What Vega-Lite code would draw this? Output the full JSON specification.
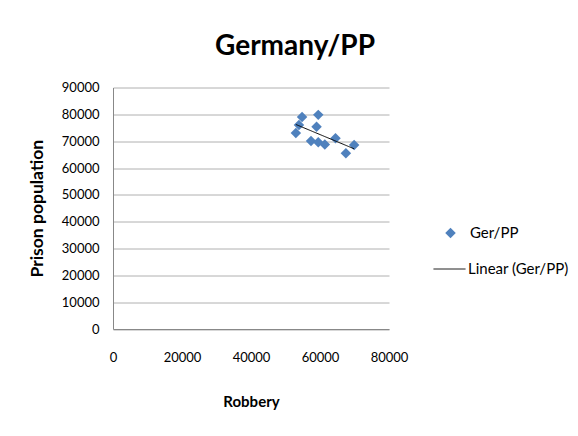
{
  "$schema": "https://vega.github.io/schema/vega-lite/v6.json",
  "width": 276,
  "height": 241.5,
  "autosize": "none",
  "padding": {"left": 113, "top": 87.5, "right": 189, "bottom": 107},
  "background": "white",
  "title": {
    "text": "Germany/PP",
    "font": "Lato",
    "fontSize": 28,
    "fontWeight": "bold",
    "color": "#000000",
    "anchor": "middle",
    "dx": 44,
    "baseline": "alphabetic",
    "offset": -1
  },
  "data": {
    "values": [
      {"robbery": 53000, "pp": 73000},
      {"robbery": 53900, "pp": 76000},
      {"robbery": 54800, "pp": 79000},
      {"robbery": 57400, "pp": 70100},
      {"robbery": 59000, "pp": 75400},
      {"robbery": 59500, "pp": 79800},
      {"robbery": 59500, "pp": 69600},
      {"robbery": 61400, "pp": 68800},
      {"robbery": 64500, "pp": 71100},
      {"robbery": 67500, "pp": 65500},
      {"robbery": 69900, "pp": 68600}
    ]
  },
  "encoding": {
    "x": {
      "field": "robbery", "type": "quantitative", "title": "Robbery",
      "scale": {"domain": [0, 80000], "nice": false, "zero": true},
      "axis": {"values": [0, 20000, 40000, 60000, 80000], "grid": false, "ticks": false,
               "labelPadding": 22, "titlePadding": 30, "format": "d",
               "labelFlush": false, "labelOverlap": false, "titleFontSize": 15}
    },
    "y": {
      "field": "pp", "type": "quantitative", "title": "Prison population",
      "scale": {"domain": [0, 90000], "nice": false},
      "axis": {"values": [0, 10000, 20000, 30000, 40000, 50000, 60000, 70000, 80000, 90000],
               "grid": true, "ticks": false, "labelPadding": 14, "titlePadding": 15,
               "format": "d", "labelOverlap": false, "titleFontSize": 17.5}
    }
  },
  "layer": [
    {
      "mark": {"type": "point", "shape": "diamond", "filled": true, "size": 110, "opacity": 1},
      "encoding": {
        "color": {
          "datum": "Ger/PP",
          "scale": {"domain": ["Ger/PP"], "range": ["#4F81BD"]},
          "legend": {
            "title": null, "orient": "none", "legendX": 330, "legendY": 138,
            "symbolType": "diamond", "symbolSize": 110, "labelOffset": 12, "padding": 0
          }
        }
      }
    },
    {
      "transform": [{"regression": "pp", "on": "robbery"}],
      "mark": {"type": "line", "color": "#000000", "strokeWidth": 1},
      "encoding": {
        "strokeDash": {
          "datum": "Linear (Ger/PP)",
          "scale": {"domain": ["Linear (Ger/PP)"], "range": [[1, 0]]},
          "legend": {
            "title": null, "orient": "none", "legendX": 320, "legendY": 165,
            "symbolType": "stroke", "symbolSize": 1024, "symbolStrokeColor": "#000000",
            "symbolStrokeWidth": 1, "labelOffset": 2, "padding": 0
          }
        }
      }
    }
  ],
  "config": {
    "view": {"stroke": null},
    "axis": {
      "domainColor": "#888888",
      "domainWidth": 1,
      "gridColor": "#b0b0b0",
      "gridWidth": 1,
      "labelFont": "Lato",
      "labelFontSize": 13,
      "labelColor": "#000000",
      "titleFont": "Lato",
      "titleFontWeight": "bold",
      "titleColor": "#000000"
    },
    "legend": {
      "labelFont": "Lato",
      "labelFontSize": 15,
      "labelColor": "#000000"
    }
  }
}
